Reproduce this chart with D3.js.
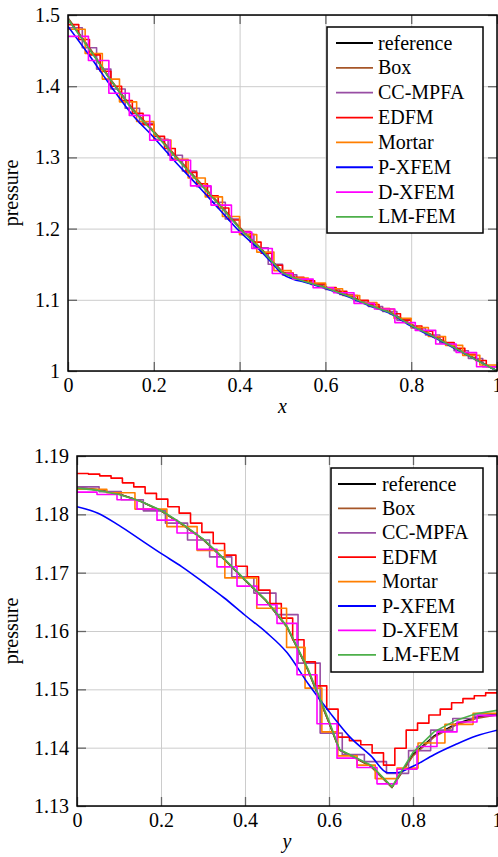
<!DOCTYPE html>
<html>
<head>
<meta charset="utf-8">
<script src="https://cdn.jsdelivr.net/npm/d3@7"></script>
<style>
  body { margin: 0; background: #fff; }
  svg { display: block; font-family: "Liberation Serif", serif; }
  .grid line { stroke: #cccccc; stroke-width: 1; }
  .ticks line { stroke: #666; stroke-width: 1.3; }
</style>
</head>
<body>
<div id="chart"></div>
<script>
// series names and colours (legend order = drawing order)
var names = ["reference", "Box", "CC-MPFA", "EDFM", "Mortar", "P-XFEM", "D-XFEM", "LM-FEM"];
var colors = ["#000000", "#a65628", "#984ea3", "#ff0000", "#ff7f00", "#0000ff", "#ff00ff", "#4daf4a"];

var xTicks = [0, 0.2, 0.4, 0.6, 0.8, 1];
var topYTicks = [1, 1.1, 1.2, 1.3, 1.4, 1.5];
var botYTicks = [1.13, 1.14, 1.15, 1.16, 1.17, 1.18, 1.19];

// ---- top plot: pressure along x ----
var topX = [0, 0.05, 0.1, 0.15, 0.2, 0.25, 0.3, 0.35, 0.4, 0.45, 0.475, 0.5, 0.525, 0.55, 0.6, 0.65, 0.7, 0.75, 0.8, 0.85, 0.9, 0.95, 1];
var topRef = [1.495, 1.453, 1.408, 1.368, 1.336, 1.302, 1.269, 1.236, 1.201, 1.172, 1.155, 1.139, 1.132, 1.127, 1.118, 1.107, 1.094, 1.083, 1.065, 1.050, 1.034, 1.017, 1.000];
var topBox = [1.496, 1.454, 1.409, 1.369, 1.337, 1.303, 1.270, 1.237, 1.202, 1.172, 1.155, 1.139, 1.132, 1.127, 1.118, 1.107, 1.094, 1.083, 1.066, 1.050, 1.034, 1.017, 1.000];
var topLM = [1.494, 1.452, 1.408, 1.367, 1.335, 1.301, 1.268, 1.235, 1.200, 1.171, 1.154, 1.138, 1.131, 1.126, 1.117, 1.106, 1.093, 1.082, 1.064, 1.049, 1.033, 1.016, 1.000];
var topPX = [1.484, 1.443, 1.400, 1.360, 1.328, 1.294, 1.262, 1.229, 1.196, 1.168, 1.152, 1.136, 1.129, 1.125, 1.116, 1.105, 1.092, 1.081, 1.063, 1.048, 1.032, 1.016, 1.000];
// cell values (uniform cells over [0,1])
var topCC = [1.4820, 1.4540, 1.4240, 1.3960, 1.3690, 1.3480, 1.3255, 1.3030, 1.2810, 1.2590, 1.2370, 1.2135, 1.1920, 1.1730, 1.1500, 1.1350, 1.1275, 1.1215, 1.1145, 1.1075, 1.0985, 1.0905, 1.0835, 1.0715, 1.0605, 1.0505, 1.0395, 1.0285, 1.0175, 1.0060];
var topEDFM = [1.4865, 1.4655, 1.4440, 1.4210, 1.4000, 1.3800, 1.3620, 1.3460, 1.3295, 1.3125, 1.2960, 1.2790, 1.2630, 1.2460, 1.2290, 1.2120, 1.1960, 1.1810, 1.1655, 1.1485, 1.1375, 1.1315, 1.1268, 1.1223, 1.1173, 1.1118, 1.1058, 1.0993, 1.0933, 1.0878, 1.0805, 1.0715, 1.0633, 1.0558, 1.0480, 1.0400, 1.0318, 1.0233, 1.0148, 1.0063];
var topMortar = [1.4800, 1.4460, 1.4100, 1.3780, 1.3505, 1.3245, 1.2975, 1.2710, 1.2445, 1.2170, 1.1915, 1.1670, 1.1410, 1.1305, 1.1235, 1.1155, 1.1060, 1.0960, 1.0870, 1.0740, 1.0610, 1.0485, 1.0360, 1.0220, 1.0085];
var topDX = [1.4700, 1.4360, 1.3900, 1.3590, 1.3240, 1.2960, 1.2600, 1.2330, 1.1950, 1.1720, 1.1370, 1.1290, 1.1170, 1.1100, 1.0950, 1.0870, 1.0680, 1.0570, 1.0380, 1.0260, 1.0060];

// ---- bottom plot: pressure along y ----
var botX = [0, 0.05, 0.1, 0.15, 0.2, 0.25, 0.3, 0.35, 0.4, 0.45, 0.5, 0.55, 0.6, 0.625, 0.65, 0.7, 0.75, 0.8, 0.85, 0.9, 0.95, 1];
var botRef = [1.1846, 1.1842, 1.1835, 1.1823, 1.1806, 1.1783, 1.1757, 1.1723, 1.1687, 1.1652, 1.1607, 1.1533, 1.1443, 1.1396, 1.1387, 1.1368, 1.1332, 1.1388, 1.1420, 1.1440, 1.1452, 1.1458];
var botBox = [1.1846, 1.1842, 1.1835, 1.1823, 1.1806, 1.1783, 1.1757, 1.1723, 1.1687, 1.1652, 1.1607, 1.1533, 1.1443, 1.1396, 1.1387, 1.1368, 1.1332, 1.1386, 1.1418, 1.1438, 1.1450, 1.1456];
var botLM = [1.1845, 1.1841, 1.1834, 1.1823, 1.1807, 1.1784, 1.1758, 1.1724, 1.1688, 1.1653, 1.1608, 1.1535, 1.1446, 1.1397, 1.1388, 1.1370, 1.1333, 1.1392, 1.1427, 1.1446, 1.1458, 1.1464];
var botPXx = [0, 0.05, 0.1, 0.15, 0.2, 0.25, 0.3, 0.35, 0.4, 0.45, 0.5, 0.55, 0.6, 0.65, 0.7, 0.74, 0.76, 0.8, 0.85, 0.9, 0.95, 1];
var botPX = [1.1813, 1.1802, 1.1781, 1.1757, 1.1733, 1.1710, 1.1684, 1.1657, 1.1627, 1.1598, 1.1563, 1.1510, 1.1462, 1.1418, 1.1386, 1.1357, 1.1357, 1.1368, 1.1388, 1.1405, 1.1420, 1.1430];
var botCC = [1.1847, 1.1839, 1.1825, 1.1806, 1.1785, 1.1756, 1.1727, 1.1693, 1.1665, 1.1628, 1.1545, 1.1425, 1.1388, 1.1376, 1.1356, 1.1395, 1.1430, 1.1450, 1.1458];
var botEDFM = [1.1870, 1.1869, 1.1866, 1.1862, 1.1854, 1.1847, 1.1836, 1.1826, 1.1813, 1.1802, 1.1785, 1.1769, 1.1750, 1.1730, 1.1711, 1.1693, 1.1670, 1.1647, 1.1622, 1.1585, 1.1547, 1.1506, 1.1466, 1.1418, 1.1412, 1.1405, 1.1391, 1.1370, 1.1399, 1.1430, 1.1442, 1.1456, 1.1466, 1.1477, 1.1484, 1.1489, 1.1494];
var botMortarEdges = [0, 0.071, 0.138, 0.214, 0.286, 0.352, 0.428, 0.499, 0.543, 0.583, 0.621, 0.667, 0.710, 0.762, 0.812, 0.876, 0.943, 1];
var botMortar = [1.1843, 1.1837, 1.1809, 1.1779, 1.1738, 1.1691, 1.1639, 1.1572, 1.1502, 1.1427, 1.1386, 1.1370, 1.1347, 1.1365, 1.1408, 1.1440, 1.1459];
var botDX = [1.1838, 1.1834, 1.1825, 1.1809, 1.1790, 1.1768, 1.1740, 1.1710, 1.1677, 1.1645, 1.1613, 1.1525, 1.1441, 1.1382, 1.1366, 1.1338, 1.1363, 1.1402, 1.1427, 1.1444, 1.1455];

// uniform cell edges for the cell-wise constant results
function cells(n) { return d3.range(n + 1).map(i => i / n); }

var FONT = '"Liberation Serif", "Times New Roman", serif';
var W = 498, H = 857;
var svg = d3.select("#chart").append("svg").attr("width", W).attr("height", H);

var panels = [
  {
    x0: 68, x1: 497, y0: 15, y1: 371, domain: [1, 1.5], yTicks: topYTicks, xlabel: "x", xlabelY: 413,
    legend: {x: 327, y: 27, w: 156, h: 206, row0: 43, dy: 24.85, l0: 336, l1: 373, tx: 378},
    series: [
      {type: "line", x: topX, y: topRef},
      {type: "line", x: topX, y: topBox},
      {type: "step", edges: cells(topCC.length), y: topCC},
      {type: "step", edges: cells(topEDFM.length), y: topEDFM},
      {type: "step", edges: cells(topMortar.length), y: topMortar},
      {type: "smooth", x: topX, y: topPX},
      {type: "step", edges: cells(topDX.length), y: topDX},
      {type: "line", x: topX, y: topLM}
    ]
  },
  {
    x0: 77, x1: 497, y0: 456, y1: 806, domain: [1.13, 1.19], yTicks: botYTicks, xlabel: "y", xlabelY: 848,
    legend: {x: 331, y: 468, w: 152, h: 204, row0: 484, dy: 24.4, l0: 338, l1: 376, tx: 382},
    series: [
      {type: "line", x: botX, y: botRef},
      {type: "line", x: botX, y: botBox},
      {type: "step", edges: cells(botCC.length), y: botCC},
      {type: "step", edges: cells(botEDFM.length), y: botEDFM},
      {type: "step", edges: botMortarEdges, y: botMortar},
      {type: "smooth", x: botPXx, y: botPX},
      {type: "step", edges: cells(botDX.length), y: botDX},
      {type: "line", x: botX, y: botLM}
    ]
  }
];

function tickText(a) {
  a.select(".domain").remove();
  a.attr("font-family", null).attr("font-size", null);
  a.selectAll("text")
    .style("font-family", FONT)
    .style("font-size", "20px")
    .style("fill", "#000");
}

panels.forEach(function(p, pi) {
  var w = p.x1 - p.x0, h = p.y1 - p.y0;
  var g = svg.append("g").attr("transform", "translate(" + p.x0 + "," + p.y0 + ")");

  var x = d3.scaleLinear().domain([0, 1]).range([0, w]);
  var y = d3.scaleLinear().domain(p.domain).range([h, 0]);
  var fmt = d => String(+d.toFixed(2));

  // grid
  g.append("g").attr("class", "grid")
    .call(d3.axisBottom(x).tickValues(xTicks).tickSize(h).tickFormat(""))
    .call(a => a.select(".domain").remove());
  g.append("g").attr("class", "grid")
    .call(d3.axisRight(y).tickValues(p.yTicks).tickSize(w).tickFormat(""))
    .call(a => a.select(".domain").remove());

  // series
  g.append("clipPath").attr("id", "clip" + pi)
    .append("rect").attr("width", w).attr("height", h);
  var plot = g.append("g").attr("clip-path", "url(#clip" + pi + ")");

  p.series.forEach(function(s, si) {
    var pts, line = d3.line().x(d => x(d[0])).y(d => y(d[1]));
    if (s.type === "step") {
      pts = s.y.map((v, i) => [s.edges[i], v]);
      pts.push([s.edges[s.edges.length - 1], s.y[s.y.length - 1]]);
      line.curve(d3.curveStepAfter);
    } else {
      pts = s.x.map((v, i) => [v, s.y[i]]);
      if (s.type === "smooth") line.curve(d3.curveMonotoneX);
    }
    plot.append("path")
      .attr("d", line(pts))
      .attr("fill", "none")
      .attr("stroke", colors[si])
      .attr("stroke-width", 1.6)
      .attr("stroke-linejoin", "round");
  });

  // ticks on all four sides, pointing inwards
  g.append("g").attr("class", "ticks")
    .call(d3.axisLeft(y).tickValues(p.yTicks).tickSizeInner(-9).tickSizeOuter(0).tickPadding(8).tickFormat(fmt))
    .call(tickText);
  g.append("g").attr("class", "ticks").attr("transform", "translate(" + w + ",0)")
    .call(d3.axisRight(y).tickValues(p.yTicks).tickSizeInner(-9).tickSizeOuter(0).tickFormat(""))
    .call(a => a.select(".domain").remove());
  g.append("g").attr("class", "ticks").attr("transform", "translate(0," + h + ")")
    .call(d3.axisBottom(x).tickValues(xTicks).tickSizeInner(-9).tickSizeOuter(0).tickPadding(7).tickFormat(fmt))
    .call(tickText);
  g.append("g").attr("class", "ticks")
    .call(d3.axisTop(x).tickValues(xTicks).tickSizeInner(-9).tickSizeOuter(0).tickFormat(""))
    .call(a => a.select(".domain").remove());

  // frame
  g.append("rect").attr("width", w).attr("height", h)
    .attr("fill", "none").attr("stroke", "#000").attr("stroke-width", 1.5);

  // axis labels
  svg.append("text")
    .attr("x", p.x0 + w / 2).attr("y", p.xlabelY)
    .attr("text-anchor", "middle")
    .style("font-family", FONT).style("font-style", "italic").style("font-size", "20px")
    .text(p.xlabel);
  svg.append("text")
    .attr("transform", "translate(18," + (p.y0 + h / 2) + ") rotate(-90)")
    .attr("text-anchor", "middle")
    .style("font-family", FONT).style("font-size", "20px")
    .text("pressure");

  // legend
  var L = p.legend;
  svg.append("rect")
    .attr("x", L.x).attr("y", L.y).attr("width", L.w).attr("height", L.h)
    .attr("fill", "#fff").attr("stroke", "#000").attr("stroke-width", 1.5);
  names.forEach(function(n, i) {
    var ly = L.row0 + i * L.dy;
    svg.append("line")
      .attr("x1", L.l0).attr("x2", L.l1).attr("y1", ly).attr("y2", ly)
      .attr("stroke", colors[i]).attr("stroke-width", 1.8);
    svg.append("text")
      .attr("x", L.tx).attr("y", ly + 6.5)
      .style("font-family", FONT).style("font-size", "20px")
      .text(n);
  });
});
</script>
</body>
</html>
